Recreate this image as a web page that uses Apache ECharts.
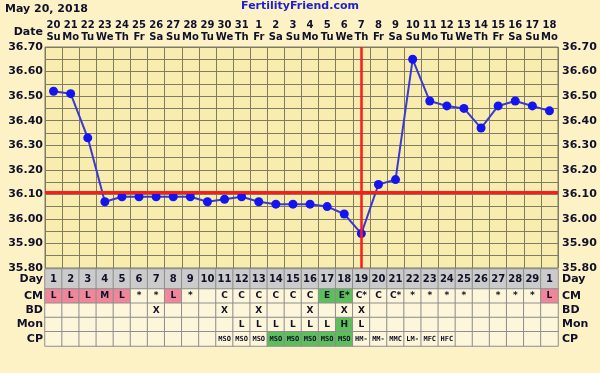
<!DOCTYPE html>
<html><head><meta charset="utf-8">
<script src="https://cdn.jsdelivr.net/npm/echarts@6/dist/echarts.min.js"></script>
<style>html,body{margin:0;padding:0;background:#fdf2c6}#c{width:600px;height:373px}</style>
</head><body><div id="c"></div>
<script>
const chartDate = 'May 20, 2018';
const siteName = 'FertilityFriend.com';
const dates = ['20','21','22','23','24','25','26','27','28','29','30','31','1','2','3','4','5','6','7','8','9','10','11','12','13','14','15','16','17','18'];
const weekdays = ['Su','Mo','Tu','We','Th','Fr','Sa','Su','Mo','Tu','We','Th','Fr','Sa','Su','Mo','Tu','We','Th','Fr','Sa','Su','Mo','Tu','We','Th','Fr','Sa','Su','Mo'];
const cycleDays = ['1','2','3','4','5','6','7','8','9','10','11','12','13','14','15','16','17','18','19','20','21','22','23','24','25','26','27','28','29','1'];
const temps = [36.52,36.51,36.33,36.07,36.09,36.09,36.09,36.09,36.09,36.07,36.08,36.09,36.07,36.06,36.06,36.06,36.05,36.02,35.94,36.14,36.16,36.65,36.48,36.46,36.45,36.37,36.46,36.48,36.46,36.44];
const coverline = 36.11;
const ovulationDay = 19;
const tempMin = 35.80, tempMax = 36.70, tempStep = 0.10;
const rowNames = ['CM','BD','Mon','CP'];
const cm  = ['L','L','L','M','L','*','*','L','*','','C','C','C','C','C','C','E','E*','C*','C','C*','*','*','*','*','','*','*','*','L'];
const bd  = ['','','','','','','X','','','','X','','X','','','X','','X','X','','','','','','','','','','',''];
const mon = ['','','','','','','','','','','','L','L','L','L','L','L','H','L','','','','','','','','','','',''];
const cp  = ['','','','','','','','','','','MSO','MSO','MSO','MSO','MSO','MSO','MSO','MSO','HM-','MM-','MMC','LM-','MFC','HFC','','','','','',''];
const fertileCpDays = [14,15,16,17,18];

const TXT = '#10102a', FONT = 'DejaVu Sans';
const PINK = '#f0869a', GREEN = '#5cbf5c', CELL = '#fdf6da', DAYBG = '#cbcbcb', TLINE = '#8e8e8e';
const GRIDC = '#807c64';

const cats = dates.map((d, i) => String(i));
const dayData = cycleDays.map((d, i) => ({value: [i, 0, 1], itemStyle: {color: DAYBG}}));
const rowsArr = [cm, bd, mon, cp];
const rowData = [];
rowsArr.forEach((arr, r) => arr.forEach((v, i) => {
  let c = CELL;
  if (r === 0 && (v === 'L' || v === 'M' || v === 'H')) c = PINK;
  if (r === 0 && v.charAt(0) === 'E') c = GREEN;
  if (r === 2 && v === 'H') c = GREEN;
  if (r === 3 && fertileCpDays.indexOf(i + 1) >= 0) c = GREEN;
  rowData.push({value: [i, r, 1], itemStyle: {color: c}, label: r === 3 ? {fontSize: 7, fontFamily: 'DejaVu Sans Mono'} : {}});
}));

const chart = echarts.init(document.getElementById('c'), null, {renderer: 'canvas'});
const rowLabel = {color: TXT, fontFamily: FONT, fontWeight: 'bold', fontSize: 11};
const catAxisLabel = {interval: 0, ...rowLabel};
chart.setOption({
  animation: false,
  backgroundColor: '#fdf2c6',
  title: [
    {text: chartDate, left: 0, top: -1, textStyle: {color: TXT, fontFamily: FONT, fontWeight: 'bold', fontSize: 11}},
    {text: siteName, left: 'center', top: -4, textStyle: {color: '#2222cc', fontFamily: FONT, fontWeight: 'bold', fontSize: 11}}
  ],
  graphic: [{type: 'text', x: 43, y: 32, style: {text: 'Date', align: 'right', verticalAlign: 'middle', fill: TXT, font: 'bold 11px "DejaVu Sans"'}}],
  grid: [
    {left: 45, right: 42, top: 47, height: 221, show: true, backgroundColor: '#f8ecae', borderColor: GRIDC, borderWidth: 1},
    {left: 45, right: 42, top: 269, height: 20},
    {left: 45, right: 42, top: 289, height: 57}
  ],
  xAxis: [
    {type: 'category', gridIndex: 0, position: 'top', data: cats, boundaryGap: true,
     axisLine: {show: false}, axisTick: {show: false},
     splitLine: {show: true, interval: 0, lineStyle: {color: GRIDC, width: 1}},
     axisLabel: {interval: 0, margin: 4, formatter: (v, i) => '{d|' + dates[i] + '}\n{w|' + weekdays[i] + '}',
       rich: {d: {color: TXT, fontFamily: FONT, fontWeight: 'bold', fontSize: 10, lineHeight: 12},
              w: {color: TXT, fontFamily: FONT, fontWeight: 'bold', fontSize: 10, lineHeight: 12}}}},
    {type: 'category', gridIndex: 1, data: cats, show: false},
    {type: 'category', gridIndex: 2, data: cats, show: false}
  ],
  yAxis: [
    {type: 'value', gridIndex: 0, min: tempMin, max: tempMax, interval: tempStep, position: 'left',
     axisLine: {show: false}, axisTick: {show: false},
     axisLabel: {margin: 2, formatter: v => v.toFixed(2), ...rowLabel},
     splitLine: {show: true, lineStyle: {color: GRIDC, width: 1}},
     minorTick: {show: false, splitNumber: 2},
     minorSplitLine: {show: true, lineStyle: {color: GRIDC, width: 1}}},
    {type: 'value', gridIndex: 0, min: tempMin, max: tempMax, interval: tempStep, position: 'right',
     axisLine: {show: false}, axisTick: {show: false}, splitLine: {show: false},
     axisLabel: {margin: 4, formatter: v => v.toFixed(2), ...rowLabel}},
    {type: 'category', gridIndex: 1, data: ['Day'], position: 'left', axisLine: {show: false}, axisTick: {show: false}, axisLabel: {margin: 2, ...catAxisLabel}},
    {type: 'category', gridIndex: 1, data: ['Day'], position: 'right', axisLine: {show: false}, axisTick: {show: false}, axisLabel: {margin: 4, ...catAxisLabel}},
    {type: 'category', gridIndex: 2, data: rowNames, inverse: true, position: 'left', axisLine: {show: false}, axisTick: {show: false}, axisLabel: {margin: 2, ...catAxisLabel}},
    {type: 'category', gridIndex: 2, data: rowNames, inverse: true, position: 'right', axisLine: {show: false}, axisTick: {show: false}, axisLabel: {margin: 4, ...catAxisLabel}}
  ],
  series: [
    {type: 'line', xAxisIndex: 0, yAxisIndex: 0, data: temps, showSymbol: false, lineStyle: {opacity: 0}, z: 2, silent: true,
     markLine: {silent: true, symbol: 'none', label: {show: false},
       lineStyle: {color: '#ff1a1a', width: 3, type: 'solid'},
       data: [{yAxis: coverline}, {xAxis: String(ovulationDay - 1), lineStyle: {width: 2.5}}]}},
    {type: 'line', xAxisIndex: 0, yAxisIndex: 0, data: temps, z: 4, symbol: 'circle', symbolSize: 9,
     itemStyle: {color: '#1414f0'}, lineStyle: {color: '#3a3ad0', width: 2}},
    {type: 'heatmap', xAxisIndex: 1, yAxisIndex: 2, data: dayData,
     itemStyle: {borderColor: TLINE, borderWidth: 1},
     label: {show: true, formatter: p => cycleDays[p.value[0]], color: TXT, fontFamily: FONT, fontWeight: 'bold', fontSize: 10}},
    {type: 'heatmap', xAxisIndex: 2, yAxisIndex: 4, data: rowData,
     itemStyle: {borderColor: TLINE, borderWidth: 1},
     label: {show: true, formatter: p => rowsArr[p.value[1]][p.value[0]], color: TXT, fontFamily: FONT, fontWeight: 'bold', fontSize: 9}}
  ]
});
</script></body></html>
